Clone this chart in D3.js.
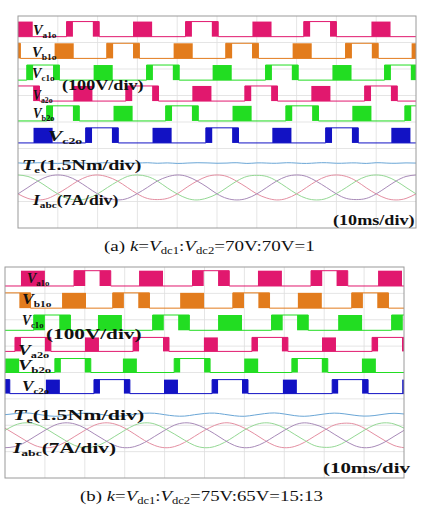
<!DOCTYPE html>
<html>
<head>
<meta charset="utf-8">
<script src="https://cdn.jsdelivr.net/npm/d3@7"></script>
<style>
  body { margin: 0; background: #fff; }
  svg { display: block; }
  text { font-family: "Liberation Serif", "DejaVu Serif", serif; }
</style>
</head>
<body>
<svg id="scope" width="424" height="508"></svg>
<script>
const svg = d3.select("#scope");

// sampling grid of the analog traces (ms)
const sampleMs = [0, 2.5, 5, 7.5, 10, 12.5, 15, 17.5, 20, 22.5, 25, 27.5, 30, 32.5, 35, 37.5, 40,
  42.5, 45, 47.5, 50, 52.5, 55, 57.5, 60, 62.5, 65, 67.5, 70, 72.5, 75, 77.5, 80, 82.5, 85, 87.5,
  90, 92.5, 95, 97.5, 100];

const channels = ["a1o", "b1o", "c1o", "a2o", "b2o", "c2o"];
const channelColors = ["#e1186e", "#e27c1d", "#22dd22", "#e1186e", "#22dd22", "#1212c4"];
const currentColors = ["#e48fa2", "#94d894", "#a88ab8"];

// (a) centres (ms) of the wide switching blocks and of the narrow pulse pairs
const wideA = [
  [1.3, 31.3, 61.3, 91.2],
  [11.6, 41.5, 71.4, 101.3],
  [21.4, 51.3, 81.4],
  [16.3, 46.2, 76.1],
  [26.4, 56.3, 86.4],
  [6.3, 36.2, 66.3, 96.2]
];
const pairA = [
  [16.3, 46.2, 75.9],
  [-3.5, 26.4, 56.3, 86.4],
  [6.3, 36.4, 66.3, 96.2],
  [1.3, 31.2, 61.1, 91.2],
  [11.3, 41.2, 71.4, 101.3],
  [-8.8, 21.1, 51.3, 81.4]
];
// widths (ms) for inverter 1 / inverter 2, pulse level (V)
const wideWidthA = [4.8, 4.8];
const pulseInnerA = [2.5, 2.5];
const pulseOuterA = [4.1, 4.1];
const levelA = [57, 57];

// (b)
const wideB = [
  [7.0, 36.6, 66.4, 96.5],
  [17.3, 46.9, 76.4],
  [26.3, 56.4, 86.5],
  [21.8, 51.6, 81.2],
  [1.8, 31.3, 61.7, 91.2],
  [12.0, 41.6, 71.4, 101.3]
];
const pairB = [
  [21.9, 51.6, 81.3],
  [1.8, 31.6, 61.7, 91.5],
  [11.8, 41.6, 71.4, 101.5],
  [7.0, 36.6, 66.4, 96.5],
  [17.0, 46.9, 76.4],
  [-3.3, 26.8, 56.4, 86.5]
];
const wideWidthB = [6.0, 3.5];
const pulseInnerB = [1.8, 3.0];
const pulseOuterB = [4.6, 4.5];
const levelB = [58, 53];

// phase currents (A)
const iaA = [-1.7, -2.9, -3.3, -2.9, -1.6, 0.0, 1.7, 2.9, 3.3, 2.8, 1.7, 0.0,
  -1.7, -2.9, -3.2, -2.9, -1.7, 0.1, 1.7, 2.9, 3.3, 2.9, 1.6, 0.0,
  -1.7, -2.8, -3.3, -2.9, -1.7, 0.0, 1.7, 2.9, 3.3, 2.9, 1.7, -0.1,
  -1.7, -2.9, -3.3, -2.9, -1.7];
const ibA = [3.3, 2.9, 1.7, 0.0, -1.7, -2.9, -3.3, -2.9, -1.7, 0.0, 1.6, 2.9,
  3.3, 2.9, 1.7, -0.1, -1.7, -2.9, -3.3, -2.8, -1.7, 0.0, 1.7, 2.9,
  3.2, 2.9, 1.7, 0.0, -1.7, -2.9, -3.3, -2.9, -1.6, 0.0, 1.7, 2.9,
  3.3, 2.9, 1.7, 0.0, -1.7];
const icA = [-1.7, 0.0, 1.7, 2.9, 3.3, 2.9, 1.7, 0.0, -1.7, -2.9, -3.3, -2.9,
  -1.6, 0.0, 1.7, 2.8, 3.3, 2.9, 1.7, 0.1, -1.7, -2.9, -3.3, -2.9,
  -1.7, 0.0, 1.7, 2.9, 3.3, 2.9, 1.6, 0.0, -1.7, -2.9, -3.2, -2.9,
  -1.7, 0.0, 1.7, 2.9, 3.3];
const iaB = [1.9, 0.3, -1.3, -2.7, -3.3, -3.0, -1.9, -0.3, 1.3, 2.7, 3.3, 3.0,
  1.9, 0.3, -1.4, -2.7, -3.3, -3.0, -1.9, -0.3, 1.3, 2.6, 3.3, 3.0,
  1.9, 0.4, -1.3, -2.7, -3.3, -3.0, -1.9, -0.3, 1.3, 2.7, 3.2, 3.0,
  1.9, 0.3, -1.3, -2.7, -3.3];
const ibB = [1.3, 2.7, 3.3, 3.0, 1.9, 0.3, -1.3, -2.7, -3.3, -3.0, -1.9, -0.3,
  1.3, 2.7, 3.3, 3.0, 1.8, 0.3, -1.3, -2.7, -3.3, -3.0, -1.9, -0.3,
  1.4, 2.7, 3.3, 3.0, 1.9, 0.3, -1.3, -2.7, -3.2, -3.0, -1.9, -0.3,
  1.3, 2.7, 3.3, 3.0, 1.9];
const icB = [-3.3, -3.0, -1.9, -0.3, 1.3, 2.7, 3.3, 3.0, 1.9, 0.3, -1.3, -2.7,
  -3.3, -3.0, -1.9, -0.3, 1.3, 2.7, 3.3, 3.0, 1.9, 0.4, -1.3, -2.7,
  -3.3, -3.0, -1.9, -0.3, 1.3, 2.7, 3.3, 2.9, 1.9, 0.3, -1.3, -2.7,
  -3.3, -3.0, -1.9, -0.3, 1.3];

// torque ripple around its mean (Nm)
const teA = [0.01, -0.01, 0.02, 0.00, -0.02, 0.01, 0.02, -0.01, 0.00, 0.02,
  -0.02, 0.01, 0.00, 0.02, -0.01, 0.01, -0.02, 0.00, 0.02, 0.01,
  -0.01, 0.00, 0.02, -0.02, 0.01, 0.00, -0.01, 0.02, 0.00, -0.02,
  0.01, 0.02, -0.01, 0.00, 0.01, -0.02, 0.02, 0.00, -0.01, 0.01, 0.00];
const teB = [0.00, 0.06, 0.10, 0.05, -0.04, -0.09, -0.05, 0.03, 0.09, 0.07,
  -0.02, -0.08, -0.06, 0.02, 0.08, 0.08, 0.00, -0.07, -0.08, 0.00,
  0.07, 0.09, 0.02, -0.06, -0.09, -0.02, 0.06, 0.10, 0.04, -0.05,
  -0.09, -0.04, 0.04, 0.09, 0.05, -0.03, -0.08, -0.05, 0.03, 0.08, 0.04];

const voltsPerDiv = 100;
const ampsPerDiv = 7;
const nmPerDiv = 1.5;

// screen layout of the two captures
const panels = [
  { id: "a", left: 18, right: 416, top: 16, bottom: 228,
    offsets: [7.22, 6.40, 5.58, 4.79, 4.04, 3.21], teOff: 2.45, iOff: 1.53,
    wide: wideA, pair: pairA, wideW: wideWidthA, inner: pulseInnerA, outer: pulseOuterA, level: levelA,
    currents: [iaA, ibA, icA], te: teA },
  { id: "b", left: 5, right: 404, top: 267, bottom: 478,
    offsets: [7.28, 6.44, 5.60, 4.80, 4.00, 3.20], teOff: 2.40, iOff: 1.62,
    wide: wideB, pair: pairB, wideW: wideWidthB, inner: pulseInnerB, outer: pulseOuterB, level: levelB,
    currents: [iaB, ibB, icB], te: teB }
];

const styles = {
  V: { size: 14, weight: "bold", italic: true, shift: 0 },
  sub: { size: 9, weight: "bold", italic: false, shift: 3 },
  B: { size: 14, weight: "bold", italic: false, shift: 0 },
  cap: { size: 15, weight: "normal", italic: false, shift: 0 },
  capI: { size: 15, weight: "normal", italic: true, shift: 0 },
  capSub: { size: 10, weight: "normal", italic: false, shift: 3 }
};

const labelsA = [
  { x: 33, y: 35, w: 24, parts: [["V", "V"], ["a1o", "sub"]] },
  { x: 32, y: 57, w: 25, parts: [["V", "V"], ["b1o", "sub"]] },
  { x: 32, y: 78, w: 23, parts: [["V", "V"], ["c1o", "sub"]] },
  { x: 62, y: 90, w: 82, parts: [["(100V/div)", "B"]] },
  { x: 33, y: 100, w: 20, parts: [["V", "V"], ["a2o", "sub"]] },
  { x: 33, y: 118, w: 22, parts: [["V", "V"], ["b2o", "sub"]] },
  { x: 48, y: 141, w: 35, parts: [["V", "V"], ["c2o", "sub"]] },
  { x: 22, y: 170, w: 120, parts: [["T", "V"], ["e", "sub"], ["(1.5Nm/div)", "B"]] },
  { x: 33, y: 205, w: 87, parts: [["I", "V"], ["abc", "sub"], ["(7A/div)", "B"]] },
  { x: 333, y: 225, w: 82, parts: [["(10ms/div)", "B"]] },
  { x: 104, y: 251, w: 211, parts: [["(a) ", "cap"], ["k", "capI"], ["=", "cap"], ["V", "capI"], ["dc1", "capSub"],
    [":", "cap"], ["V", "capI"], ["dc2", "capSub"], ["=70V:70V=1", "cap"]] }
];
const labelsB = [
  { x: 27, y: 283, w: 23, parts: [["V", "V"], ["a1o", "sub"]] },
  { x: 22, y: 304, w: 30, parts: [["V", "V"], ["b1o", "sub"]] },
  { x: 22, y: 325, w: 22, parts: [["V", "V"], ["c1o", "sub"]] },
  { x: 46, y: 339, w: 96, parts: [["(100V/div)", "B"]] },
  { x: 18, y: 355, w: 32, parts: [["V", "V"], ["a2o", "sub"]] },
  { x: 18, y: 370, w: 34, parts: [["V", "V"], ["b2o", "sub"]] },
  { x: 22, y: 391, w: 28, parts: [["V", "V"], ["c2o", "sub"]] },
  { x: 13, y: 420, w: 132, parts: [["T", "V"], ["e", "sub"], ["(1.5Nm/div)", "B"]] },
  { x: 13, y: 453, w: 105, parts: [["I", "V"], ["abc", "sub"], ["(7A/div)", "B"]] },
  { x: 323, y: 473, w: 87, parts: [["(10ms/div", "B"]] },
  { x: 80, y: 501, w: 243, parts: [["(b) ", "cap"], ["k", "capI"], ["=", "cap"], ["V", "capI"], ["dc1", "capSub"],
    [":", "cap"], ["V", "capI"], ["dc2", "capSub"], ["=75V:65V=15:13", "cap"]] }
];

const drawLabel = (g, lab) => {
  const t = g.append("text").attr("fill", "#111");
  let prev = 0;
  lab.parts.forEach(([txt, key]) => {
    const s = styles[key];
    t.append("tspan")
      .attr("dy", s.shift - prev)
      .attr("font-size", s.size)
      .attr("font-weight", s.weight)
      .attr("font-style", s.italic ? "italic" : "normal")
      .text(txt);
    prev = s.shift;
  });
  const bw = t.node().getBBox().width;
  t.attr("transform", `translate(${lab.x},${lab.y}) scale(${lab.w / bw},1)`);
};

const drawPanel = (p, labels) => {
  const x = d3.scaleLinear().domain([0, 100]).range([p.left, p.right]);
  const y = d3.scaleLinear().domain([0, 8]).range([p.bottom, p.top]);
  const g = svg.append("g").attr("class", "panel-" + p.id);

  g.append("clipPath").attr("id", "clip-" + p.id)
    .append("rect")
      .attr("x", p.left).attr("y", p.top)
      .attr("width", p.right - p.left).attr("height", p.bottom - p.top);

  // graticule
  const grid = g.append("g").attr("stroke", "#dedede").attr("stroke-width", 0.8);
  grid.selectAll("line.v").data(d3.range(1, 10)).enter().append("line")
      .attr("x1", (d) => x(d * 10)).attr("x2", (d) => x(d * 10))
      .attr("y1", p.top).attr("y2", p.bottom);
  grid.selectAll("line.h").data(d3.range(1, 8)).enter().append("line")
      .attr("y1", (d) => y(d)).attr("y2", (d) => y(d))
      .attr("x1", p.left).attr("x2", p.right);

  const plot = g.append("g").attr("clip-path", `url(#clip-${p.id})`);

  // phase voltages
  channels.forEach((ch, i) => {
    const set = i < 3 ? 0 : 1;
    const base = p.offsets[i];
    const hi = base + p.level[set] / voltsPerDiv;
    const color = channelColors[i];
    const inner = p.inner[set];
    const outer = p.outer[set];

    const steps = [{ t: -20, v: base }];
    p.pair[i].forEach((c) => {
      steps.push({ t: c - outer, v: hi });
      steps.push({ t: c + outer, v: base });
    });
    steps.push({ t: 120, v: base });

    plot.append("path")
      .datum(steps)
      .attr("fill", "none")
      .attr("stroke", color)
      .attr("stroke-width", 1)
      .attr("d", d3.line().x((d) => x(d.t)).y((d) => y(d.v)).curve(d3.curveStepAfter));

    const blocks = [];
    p.wide[i].forEach((c) => blocks.push([c - p.wideW[set] / 2, c + p.wideW[set] / 2]));
    p.pair[i].forEach((c) => {
      blocks.push([c - outer, c - inner]);
      blocks.push([c + inner, c + outer]);
    });

    plot.append("g").selectAll("rect")
      .data(blocks)
      .enter().append("rect")
        .attr("x", (d) => x(d[0]))
        .attr("width", (d) => x(d[1]) - x(d[0]))
        .attr("y", y(hi))
        .attr("height", y(base) - y(hi))
        .attr("fill", color);
  });

  // torque
  plot.append("path")
    .datum(p.te)
    .attr("fill", "none")
    .attr("stroke", "#6aa6d6")
    .attr("stroke-width", 1)
    .attr("d", d3.line()
      .x((d, k) => x(sampleMs[k]))
      .y((d) => y(p.teOff + d / nmPerDiv))
      .curve(d3.curveNatural));

  // phase currents
  p.currents.forEach((series, j) => {
    plot.append("path")
      .datum(series)
      .attr("fill", "none")
      .attr("stroke", currentColors[j])
      .attr("stroke-width", 1)
      .attr("d", d3.line()
        .x((d, k) => x(sampleMs[k]))
        .y((d) => y(p.iOff + d / ampsPerDiv))
        .curve(d3.curveNatural));
  });

  g.append("rect")
    .attr("x", p.left).attr("y", p.top)
    .attr("width", p.right - p.left).attr("height", p.bottom - p.top)
    .attr("fill", "none")
    .attr("stroke", "#9a9a9a")
    .attr("stroke-width", 1);

  const lg = svg.append("g").attr("class", "labels-" + p.id);
  labels.forEach((lab) => drawLabel(lg, lab));
};

drawPanel(panels[0], labelsA);
drawPanel(panels[1], labelsB);
</script>
</body>
</html>
